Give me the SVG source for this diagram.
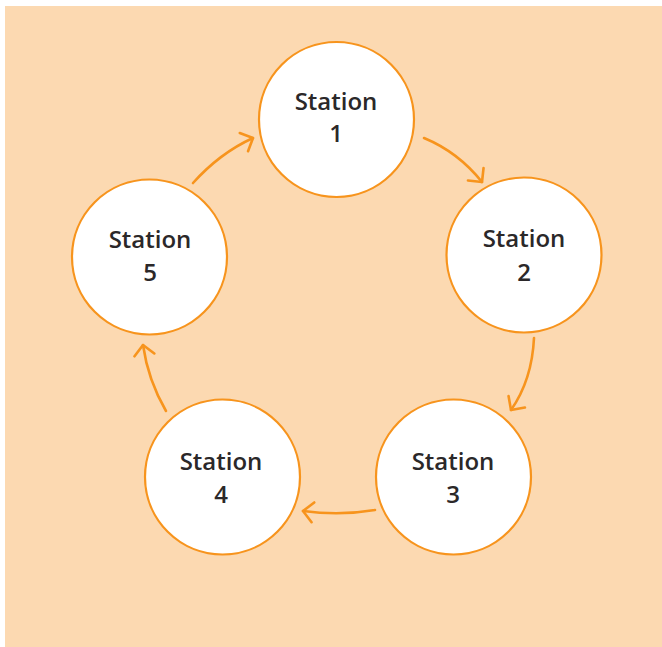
<svg xmlns="http://www.w3.org/2000/svg" width="662" height="647" viewBox="0 0 662 647">
<defs>
<style>
.bg{fill:#fcd9b1}
.node circle{fill:#ffffff;stroke:#f7941d;stroke-width:2.2}
.node text{font-family:"Open Sans","Noto Sans","DejaVu Sans",sans-serif;font-weight:600;font-size:24px;fill:#2b2829;text-anchor:middle}
.conn path{fill:none;stroke:#f7941d;stroke-width:2.6;stroke-linecap:round;stroke-linejoin:round}
</style>
<marker id="arr" viewBox="-12 -12 14 24" markerWidth="14" markerHeight="24" refX="0" refY="0" orient="auto" markerUnits="userSpaceOnUse">
<path d="M-10,-10 L0,0 L-10,10" fill="none" stroke="#f7941d" stroke-width="2.6" stroke-linecap="round" stroke-linejoin="round"/>
</marker>
</defs>
<rect class="bg" x="5" y="6" width="657" height="641"/>
<g id="connectors" class="conn">
<path d="M424,138 Q458,152 482,182" marker-end="url(#arr)"/>
<path d="M534,338 Q532,380 511,410" marker-end="url(#arr)"/>
<path d="M375,510 Q340,516 303,511" marker-end="url(#arr)"/>
<path d="M166,411 Q148,380 143,345" marker-end="url(#arr)"/>
<path d="M193,183 Q220,153 253,138" marker-end="url(#arr)"/>
</g>
<g id="station1" class="node">
<circle cx="336.5" cy="119.5" r="77.5"/>
<text x="336" y="110">Station</text>
<text x="336" y="142">1</text>
</g>
<g id="station2" class="node">
<circle cx="524" cy="255" r="77.5"/>
<text x="524" y="247">Station</text>
<text x="524" y="281">2</text>
</g>
<g id="station3" class="node">
<circle cx="453.5" cy="477" r="77.5"/>
<text x="453" y="470">Station</text>
<text x="453" y="503">3</text>
</g>
<g id="station4" class="node">
<circle cx="222.5" cy="477" r="77.5"/>
<text x="221" y="470">Station</text>
<text x="221" y="503">4</text>
</g>
<g id="station5" class="node">
<circle cx="149.5" cy="257" r="77.5"/>
<text x="150" y="248">Station</text>
<text x="150" y="281">5</text>
</g>
</svg>
